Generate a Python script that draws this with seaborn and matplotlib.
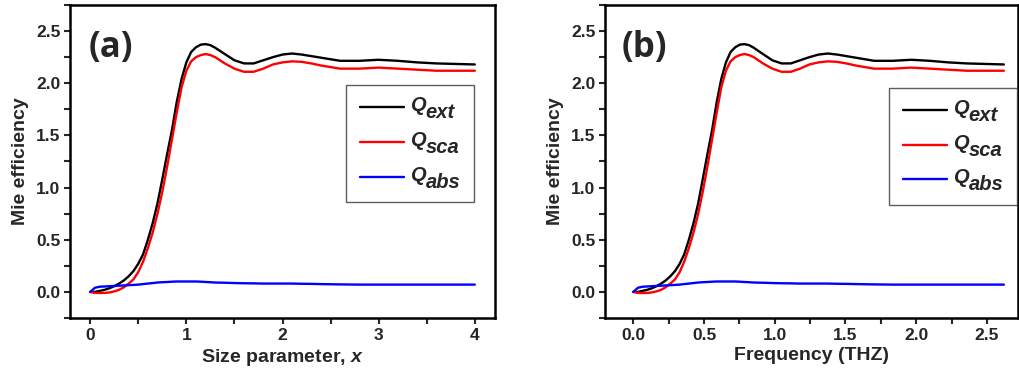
import matplotlib
matplotlib.use("Agg")
import matplotlib.pyplot as plt
import seaborn as sns
import pandas as pd
from matplotlib.ticker import MultipleLocator, FormatStrFormatter
from matplotlib.transforms import IdentityTransform

# ---- data ----
size_param = [0, 0.05, 0.1, 0.15, 0.2, 0.25, 0.3, 0.35, 0.4, 0.45, 0.5, 0.55, 0.6, 0.65,
              0.7, 0.75, 0.8, 0.85, 0.9, 0.95, 1.0, 1.05, 1.1, 1.15, 1.2, 1.25, 1.3, 1.35,
              1.4, 1.5, 1.6, 1.7, 1.8, 1.9, 2.0, 2.1, 2.2, 2.3, 2.4, 2.6, 2.8, 3.0, 3.2,
              3.4, 3.6, 3.8, 4.0]
frequency = [0, 0.033, 0.066, 0.098, 0.131, 0.164, 0.197, 0.229, 0.262, 0.295, 0.328,
             0.360, 0.393, 0.426, 0.459, 0.491, 0.524, 0.557, 0.590, 0.622, 0.655, 0.688,
             0.721, 0.753, 0.786, 0.819, 0.852, 0.884, 0.917, 0.983, 1.048, 1.114, 1.179,
             1.245, 1.310, 1.376, 1.441, 1.507, 1.572, 1.703, 1.834, 1.965, 2.096, 2.227,
             2.358, 2.489, 2.620]
q_ext = [0, 0.0, 0.01, 0.02, 0.035, 0.055, 0.08, 0.11, 0.15, 0.20, 0.27, 0.36, 0.50,
         0.66, 0.85, 1.08, 1.32, 1.55, 1.82, 2.04, 2.20, 2.30, 2.345, 2.37, 2.375, 2.365,
         2.34, 2.31, 2.28, 2.22, 2.19, 2.19, 2.22, 2.25, 2.275, 2.285, 2.275, 2.26, 2.245,
         2.215, 2.215, 2.225, 2.215, 2.20, 2.19, 2.185, 2.18]
q_sca = [0, -0.01, -0.01, -0.01, -0.005, 0.005, 0.02, 0.045, 0.08, 0.12, 0.19, 0.29,
         0.42, 0.57, 0.75, 0.96, 1.20, 1.46, 1.72, 1.96, 2.12, 2.21, 2.25, 2.27, 2.28,
         2.27, 2.25, 2.22, 2.19, 2.14, 2.11, 2.11, 2.14, 2.18, 2.20, 2.21, 2.205, 2.19,
         2.17, 2.14, 2.14, 2.15, 2.14, 2.13, 2.12, 2.12, 2.12]
q_abs = [0, 0.04, 0.05, 0.052, 0.055, 0.057, 0.06, 0.062, 0.065, 0.067, 0.07, 0.075,
         0.08, 0.085, 0.09, 0.093, 0.095, 0.098, 0.10, 0.10, 0.10, 0.10, 0.10, 0.098,
         0.095, 0.093, 0.09, 0.089, 0.088, 0.085, 0.083, 0.082, 0.08, 0.08, 0.08, 0.08,
         0.078, 0.077, 0.075, 0.072, 0.07, 0.07, 0.07, 0.07, 0.07, 0.07, 0.07]
series_main = ["Q", "Q", "Q"]
series_sub = ["ext", "sca", "abs"]
series_colors = ["#000000", "#ff0000", "#0000ff"]
panel_tags = ["(a)", "(b)"]
x_labels = ["Size parameter, $x$", "Frequency (THZ)"]
y_label = "Mie efficiency"

sns.set_style("ticks")
plt.rcParams["font.family"] = ["Liberation Sans", "DejaVu Sans"]
plt.rcParams["font.weight"] = "bold"
plt.rcParams["mathtext.fontset"] = "custom"
plt.rcParams["mathtext.it"] = "Liberation Sans:italic:bold"
plt.rcParams["mathtext.rm"] = "Liberation Sans:bold"
plt.rcParams["mathtext.bf"] = "Liberation Sans:bold"

LEG_FS = 14.5

fig = plt.figure(figsize=(10.2, 3.81), dpi=100)
ax_a = fig.add_axes([70 / 1020, 63 / 381, 425 / 1020, 313 / 381])
ax_b = fig.add_axes([605 / 1020, 63 / 381, 413 / 1020, 313 / 381])

panels = [
    (ax_a, size_param, (-0.21, 4.21), 1.0, 0.5, (0.951, 0.744)),
    (ax_b, frequency, (-0.2, 2.72), 0.5, 0.25, (0.998, 0.735)),
]
full_labels = [m + s for m, s in zip(series_main, series_sub)]
legends = []

for i, (ax, xs, xlim, xmaj, xmin, legpos) in enumerate(panels):
    n = len(xs)
    df = pd.DataFrame({"x": xs * 3,
                       "y": q_ext + q_sca + q_abs,
                       "s": [full_labels[0]] * n + [full_labels[1]] * n + [full_labels[2]] * n})
    sns.lineplot(data=df, x="x", y="y", hue="s", palette=series_colors,
                 hue_order=full_labels, sort=False, estimator=None, lw=1.7, ax=ax)
    ax.set_xlim(*xlim)
    ax.set_ylim(-0.25, 2.75)
    ax.xaxis.set_major_locator(MultipleLocator(xmaj))
    ax.xaxis.set_minor_locator(MultipleLocator(xmin))
    ax.yaxis.set_major_locator(MultipleLocator(0.5))
    ax.yaxis.set_minor_locator(MultipleLocator(0.25))
    if i == 1:
        ax.xaxis.set_major_formatter(FormatStrFormatter("%.1f"))
    else:
        ax.xaxis.set_major_formatter(FormatStrFormatter("%d"))
    ax.yaxis.set_major_formatter(FormatStrFormatter("%.1f"))
    ax.tick_params(which="both", direction="out", width=1.5, length=4,
                   labelsize=12.5, top=False, right=False, pad=3)
    for lab in ax.get_xticklabels() + ax.get_yticklabels():
        lab.set_fontweight("bold")
    for sp in ax.spines.values():
        sp.set_visible(True)
        sp.set_linewidth(1.8)
        sp.set_color("black")
    ax.set_xlabel(x_labels[i], fontsize=14, fontweight="bold", labelpad=3)
    ax.set_ylabel(y_label, fontsize=14, fontweight="bold", labelpad=5)
    ax.text(0.096, 0.863, panel_tags[i], transform=ax.transAxes, fontsize=25,
            fontweight="bold", family=["Open Sans", "DejaVu Sans"],
            ha="center", va="center")
    leg = ax.legend(loc="upper right", bbox_to_anchor=legpos, frameon=True,
                    fancybox=False, edgecolor="#333333",
                    prop={"size": LEG_FS, "weight": "bold", "style": "italic"},
                    handlelength=2.15, labelspacing=0.78, borderpad=0.7,
                    handletextpad=0.3, borderaxespad=0.0)
    leg.get_frame().set_linewidth(1.0)
    leg.set_title(None)
    legends.append(leg)

# draw Q with a large lowered subscript, as in the reference legend
fig.canvas.draw()
renderer = fig.canvas.get_renderer()
for leg in legends:
    for t, main, sub in zip(leg.get_texts(), series_main, series_sub):
        bb = t.get_window_extent(renderer)
        t.set_alpha(0)
        q = fig.text(bb.x0, bb.y0 + 3, main, transform=IdentityTransform(),
                     ha="left", va="bottom", fontsize=LEG_FS, fontweight="bold",
                     fontstyle="italic")
        qbb = q.get_window_extent(renderer)
        fig.text(qbb.x1 + 0.5, bb.y0 - 4, sub, transform=IdentityTransform(),
                 ha="left", va="bottom", fontsize=LEG_FS, fontweight="bold",
                 fontstyle="italic")

fig.savefig("out.png", dpi=100)
